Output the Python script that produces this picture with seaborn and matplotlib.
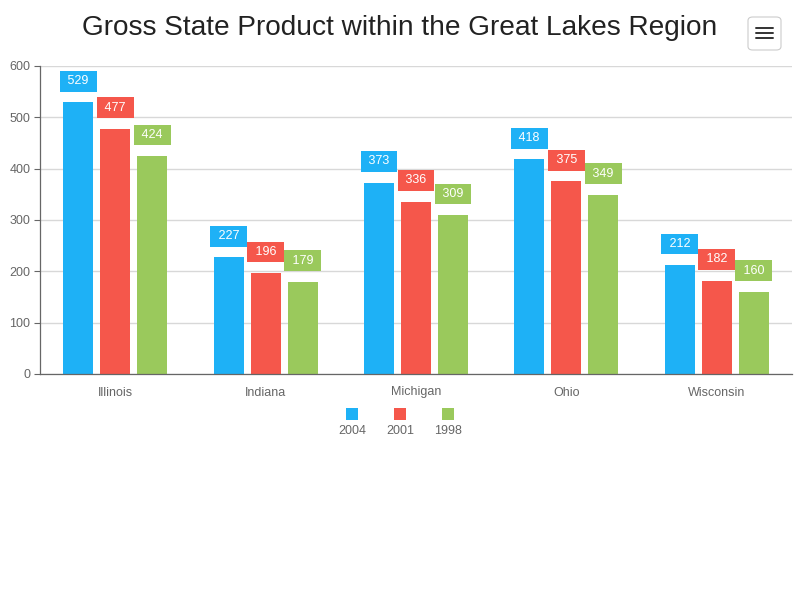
import pandas as pd
import matplotlib.pyplot as plt
import seaborn as sns
from matplotlib.patches import Rectangle, FancyBboxPatch
from matplotlib.lines import Line2D

# datos
states = ["Illinois", "Indiana", "Michigan", "Ohio", "Wisconsin"]
years = ["2004", "2001", "1998"]
gsp_2004 = [529, 227, 373, 418, 212]
gsp_2001 = [477, 196, 336, 375, 182]
gsp_1998 = [424, 179, 309, 349, 160]
colors = ["#1eb1f6", "#f5574b", "#9ac95c"]

df = pd.DataFrame({
    "State": states * 3,
    "Year": [y for y in years for _ in states],
    "GSP": gsp_2004 + gsp_2001 + gsp_1998,
})

sns.set_style("white")
plt.rcParams["font.family"] = ["Liberation Sans", "DejaVu Sans"]

fig = plt.figure(figsize=(8, 6), dpi=100)
ax = fig.add_axes([0.05, 1 - 374 / 600, 0.94, (374 - 66) / 600])

sns.barplot(data=df, x="State", y="GSP", hue="Year", hue_order=years,
            palette=colors, width=0.738, gap=0.19, saturation=1,
            linewidth=0, legend=False, ax=ax)

# etiquetas sobre las barras
for cont, col in zip(ax.containers, colors):
    for bar in cont:
        h = bar.get_height()
        ax.annotate(f" {int(h)} ", (bar.get_x() + bar.get_width() / 2, h),
                    xytext=(0, 11), textcoords="offset points",
                    ha="center", va="bottom", color="white", fontsize=9,
                    bbox=dict(boxstyle="square,pad=0.35", fc=col, ec="none"))

ax.set_ylim(0, 600)
ax.set_xlim(-0.5, 4.5)
ax.set_yticks(range(0, 601, 100))
ax.set_xticks([0.5, 1.5, 2.5, 3.5], minor=True)
ax.tick_params(axis="x", which="major", length=0, pad=9, labelsize=9, labelcolor="#666666")
ax.tick_params(axis="x", which="minor", length=6, color="#666666", width=0.8, direction="out")
ax.tick_params(axis="y", length=4, color="#666666", width=0.8, labelsize=9,
               labelcolor="#666666", pad=3, left=True)
ax.grid(axis="y", color="#d8d8d8", linewidth=1)
ax.set_axisbelow(True)
for s in ["top", "right"]:
    ax.spines[s].set_visible(False)
for s in ["left", "bottom"]:
    ax.spines[s].set_color("#666666")
    ax.spines[s].set_linewidth(0.9)
ax.set_xlabel("")
ax.set_ylabel("")

fig.text(0.5, 1 - 28 / 600, "Gross State Product within the Great Lakes Region",
         ha="center", va="center", fontsize=20.2, color="#222222")

# leyenda
for i, (yr, col) in enumerate(zip(years, colors)):
    cx = (352 + 48 * i) / 800
    fig.add_artist(Rectangle((cx - 6 / 800, 1 - 420 / 600), 12 / 800, 12 / 600,
                             transform=fig.transFigure, fc=col, ec="none"))
    fig.text(cx, 1 - 431 / 600, yr, ha="center", va="center",
             fontsize=9, color="#666666")

# botón de menú
fig.add_artist(FancyBboxPatch((748 / 800, 1 - 50 / 600), 33 / 800, 33 / 600,
                              boxstyle="round,pad=0,rounding_size=0.006",
                              transform=fig.transFigure, fc="white",
                              ec="#cccccc", lw=0.8))
for yy in [28, 33, 38]:
    fig.add_artist(Line2D([756 / 800, 773 / 800], [1 - yy / 600] * 2,
                          transform=fig.transFigure, color="#333333", lw=1.4))

fig.savefig("out.png", dpi=100)
